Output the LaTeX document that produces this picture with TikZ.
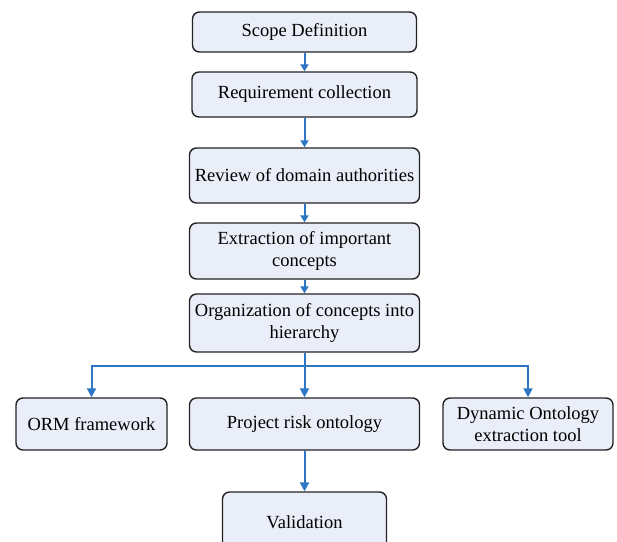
\documentclass[tikz,border=0pt]{standalone}
\usepackage{fontspec}
\setmainfont{Liberation Serif}
\usetikzlibrary{arrows.meta}
\definecolor{boxfill}{RGB}{233,238,248}
\definecolor{boxline}{RGB}{35,35,35}
\definecolor{flowblue}{RGB}{45,118,196}
\begin{document}
\begin{tikzpicture}[x=1pt,y=-1pt,
  stepbox/.style={draw=boxline,line width=1.4pt,fill=boxfill,rounded corners=7pt,
    align=center,inner sep=0pt,font=\fontsize{18.5}{22}\selectfont},
  arr/.style={draw=flowblue,line width=2pt,-{Triangle[length=9pt,width=9pt]}},
  sarr/.style={draw=flowblue,line width=2pt,-{Triangle[length=7pt,width=8pt]}}]
\useasboundingbox (0,0) rectangle (617,541);
% main stack
\node[stepbox,minimum width=224pt,minimum height=40pt] (b1) at (304.5,32) {Scope Definition};
\node[stepbox,minimum width=225pt,minimum height=45pt] (b2) at (304.5,94.5) {Requirement collection};
\node[stepbox,minimum width=230pt,minimum height=55pt] (b3) at (304.5,175.5) {Review of domain authorities};
\node[stepbox,minimum width=230pt,minimum height=56pt] (b4) at (304.5,251) {Extraction of important\\concepts};
\node[stepbox,minimum width=230pt,minimum height=58pt] (b5) at (304.5,323) {Organization of concepts into\\hierarchy};
% branch row
\node[stepbox,minimum width=151pt,minimum height=52pt] (orm) at (91.5,424) {ORM framework};
\node[stepbox,minimum width=230pt,minimum height=52pt] (prj) at (304.5,424) {Project risk ontology};
\node[stepbox,minimum width=170pt,minimum height=52pt] (dyn) at (528,424) {Dynamic Ontology\\extraction tool};
\node[stepbox,minimum width=164pt,minimum height=60pt] (val) at (304.5,522) {Validation};
% connectors
\draw[sarr] (b1.south) -- (b2.north);
\draw[sarr] (b2.south) -- (b3.north);
\draw[sarr] (b3.south) -- (b4.north);
\draw[sarr] (b4.south) -- (b5.north);
\coordinate (j) at (304.5,366);
\draw[arr] (b5.south) -- (prj.north);
\draw[arr] (j) -| (orm.north);
\draw[arr] (j) -| (dyn.north);
\draw[arr] (prj.south) -- (val.north);
\end{tikzpicture}
\end{document}
